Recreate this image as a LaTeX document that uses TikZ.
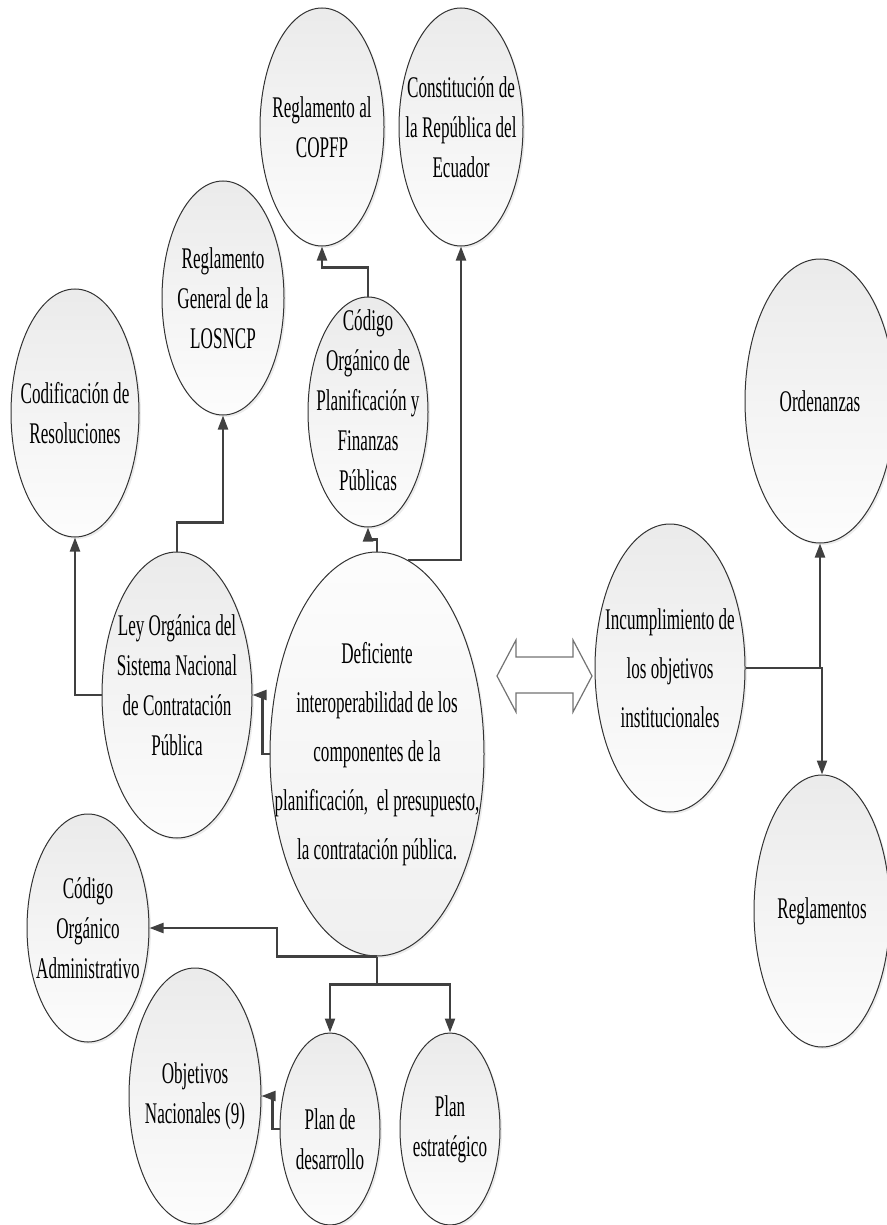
\documentclass[tikz,border=0pt]{standalone}
\usepackage{fontspec}
\newfontfamily\tnr[FakeStretch=0.57]{Liberation Serif}
\usetikzlibrary{arrows.meta,shapes.geometric,shadows}

\tikzset{
    elem/.style={ellipse, draw=black!80, line width=0.5pt, inner sep=-20pt,
        top color=gray!16, bottom color=gray!2, align=center,
        drop shadow={opacity=0.15, shadow xshift=1pt, shadow yshift=-1pt},
        font=\tnr\fontsize{15}{20}\selectfont},
    elsize/.style 2 args={minimum width=#1pt, minimum height=#2pt},
    spaced/.style={font=\tnr\fontsize{15}{24.5}\selectfont},
    conn/.style={-{Triangle[length=7pt, width=5pt]}, line width=1.1pt, draw=black!75}
}

\begin{document}
\begin{tikzpicture}[x=0.5pt, y=-0.5pt]
    \useasboundingbox (0,0) rectangle (887,1225);
    \clip (0,0) rectangle (887,1225);

    % Normas superiores
    \node[elem, elsize={62}{119}] (rcopfp) at (322,127) {Reglamento al\\COPFP};
    \node[elem, elsize={62}{119}] (const) at (461,127) {Constitución de\\la República del\\Ecuador};
    \node[elem, elsize={61}{117}] (rlosncp) at (223,298) {Reglamento\\General de la\\LOSNCP};
    \node[elem, elsize={60}{115}, text depth=12pt] (copfp) at (368,412)
        {Código\\Orgánico de\\Planificación y\\Finanzas\\Públicas};
    \node[elem, elsize={64}{124}] (codif) at (75,413) {Codificación de\\Resoluciones};
    \node[elem, elsize={75}{143}, text depth=10pt] (ley) at (177,695)
        {Ley Orgánica del\\Sistema Nacional\\de Contratación\\Pública};

    % Problema central
    \node[elem, spaced, elsize={107}{202}, top color=gray!2, bottom color=gray!12] (defic) at (377,754)
        {Deficiente\\interoperabilidad de los\\componentes de la\\planificación,~ el presupuesto,\\la contratación pública.};

    % Efectos
    \node[elem, spaced, elsize={75}{144}] (incump) at (670,668)
        {Incumplimiento de\\los objetivos\\institucionales};
    \node[elem, elsize={75}{142}] (orden) at (820,401) {Ordenanzas};
    \node[elem, elsize={68}{136}] (reglam) at (822,911) {Reglamentos};

    % Planificacion
    \node[elem, elsize={61}{114}] (coa) at (88,928) {Código\\Orgánico\\Administrativo};
    \node[elem, elsize={66}{128}] (objnac) at (195,1096) {Objetivos\\Nacionales (9)};
    \node[elem, elsize={50}{96}, text height=40.5pt] (pdes) at (330,1129) {Plan de\\desarrollo};
    \node[elem, elsize={50}{96}] (pest) at (450,1129) {Plan\\estratégico};

    % Conectores
    \draw[conn] (ley.west) -| (codif.south);
    \draw[conn] (ley.north) -- ++(0,-29) -| (rlosncp.south);
    \draw[conn] (defic.west) -- ++(-7,0) |- (ley.east);
    \draw[conn] (defic.north) -- ++(0,-12) -| (copfp.south);
    \draw[conn] (defic.81) -| (const.south);
    \draw[conn] (copfp.north) -- ++(0,-29) -| (rcopfp.south);
    \draw[conn] (defic.south) -- ++(-100,0) |- (coa.east);
    \draw[conn] (defic.south) -- ++(0,28) -| (pdes.north);
    \draw[conn] (defic.south) -- ++(0,28) -| (pest.north);
    \draw[conn] (pdes.west) -- ++(-7,0) |- (objnac.east);
    \draw[conn] (incump.east) -| (orden.south);
    \draw[conn] (incump.east) -| (reglam.north);

    % Flecha doble
    \draw[black!55, fill=white, line width=0.6pt] (497,676) -- (516,640) -- (516,657)
        -- (573,657) -- (573,640) -- (592,676) -- (573,712) -- (573,693)
        -- (516,693) -- (516,712) -- cycle;
\end{tikzpicture}
\end{document}
